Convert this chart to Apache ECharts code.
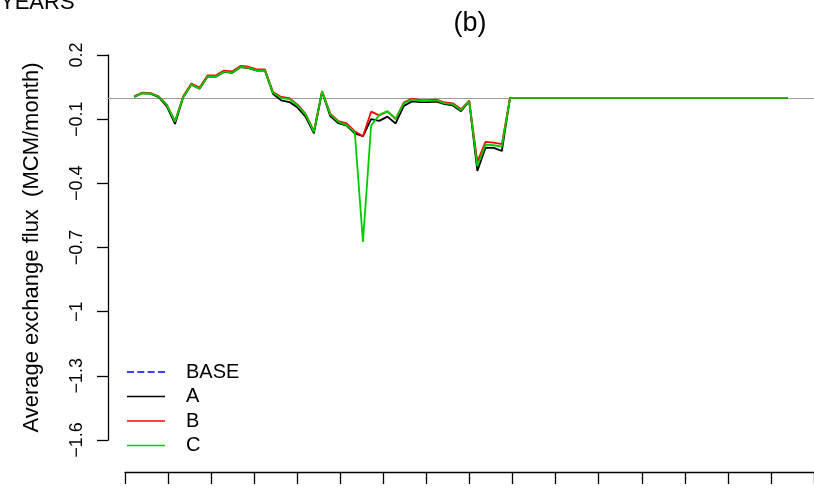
<!DOCTYPE html>
<html>
<head>
<meta charset="utf-8">
<script src="https://cdn.jsdelivr.net/npm/echarts@6/dist/echarts.min.js"></script>
<style>
  html, body { margin: 0; padding: 0; background: #fff; }
  #chart { width: 814px; height: 488px; }
</style>
</head>
<body>
<div id="chart"></div>
<script>
// Monthly average exchange flux (MCM/month) for the four scenarios
const months = Array.from({ length: 81 }, (_, i) => i + 1);

const baseValues = [];

const aValues = [
  0.004, 0.021, 0.019, 0.003, -0.040, -0.122, 0.002, 0.061, 0.042, 0.099,
  0.099, 0.121, 0.117, 0.143, 0.139, 0.127, 0.127, 0.018, -0.012, -0.020,
  -0.046, -0.090, -0.166, 0.028, -0.086, -0.119, -0.130, -0.166, -0.180, -0.100,
  -0.108, -0.088, -0.120, -0.038, -0.017, -0.020, -0.020, -0.018, -0.030, -0.036,
  -0.063, -0.016, -0.342, -0.233, -0.234, -0.249,
  0, 0, 0, 0, 0, 0, 0, 0, 0, 0, 0, 0, 0, 0, 0, 0, 0, 0,
  0, 0, 0, 0, 0, 0, 0, 0, 0, 0, 0, 0, 0, 0, 0, 0, 0
];

const bValues = [
  0.007, 0.024, 0.022, 0.007, -0.032, -0.110, 0.007, 0.067, 0.048, 0.105,
  0.105, 0.127, 0.123, 0.149, 0.145, 0.133, 0.133, 0.027, 0.004, -0.002,
  -0.032, -0.076, -0.156, 0.032, -0.074, -0.109, -0.120, -0.156, -0.180, -0.065,
  -0.082, -0.064, -0.100, -0.022, -0.004, -0.011, -0.011, -0.009, -0.022, -0.026,
  -0.054, -0.013, -0.300, -0.206, -0.210, -0.217,
  0, 0, 0, 0, 0, 0, 0, 0, 0, 0, 0, 0, 0, 0, 0, 0, 0, 0,
  0, 0, 0, 0, 0, 0, 0, 0, 0, 0, 0, 0, 0, 0, 0, 0, 0
];

const cValues = [
  0.005, 0.022, 0.020, 0.005, -0.034, -0.112, 0.003, 0.062, 0.043, 0.100,
  0.100, 0.122, 0.118, 0.144, 0.140, 0.128, 0.128, 0.022, 0.000, -0.006,
  -0.036, -0.080, -0.160, 0.030, -0.078, -0.113, -0.128, -0.160, -0.674, -0.130,
  -0.080, -0.062, -0.097, -0.026, -0.008, -0.014, -0.014, -0.012, -0.026, -0.030,
  -0.058, -0.015, -0.320, -0.219, -0.222, -0.228,
  0, 0, 0, 0, 0, 0, 0, 0, 0, 0, 0, 0, 0, 0, 0, 0, 0, 0,
  0, 0, 0, 0, 0, 0, 0, 0, 0, 0, 0, 0, 0, 0, 0, 0, 0
];

const yTickLabels = ['\u22121.6', '\u22121.3', '\u22121', '\u22120.7', '\u22120.4', '\u22120.1', '0.2'];
const seriesNames = ['BASE', 'A', 'B', 'C'];
const seriesColors = ['#0000ff', '#000000', '#ff0000', '#00cd00'];

const FONT = '"Liberation Sans", Arial, Helvetica, sans-serif';

// legend keys: a dashed stroke for BASE, plain strokes for the others
const SOLID_KEY = 'path://M0,0H38V1.4H0Z';
const DASHED_KEY = 'path://M0,0H7V1.4H0Z M10.3,0H17.3V1.4H10.3Z M20.6,0H27.6V1.4H20.6Z M31,0H38V1.4H31Z';

function pairs(values) {
  return values.map((v, i) => [months[i], v]);
}

const chart = echarts.init(document.getElementById('chart'), null, { renderer: 'canvas' });

const lineSeries = [baseValues, aValues, bValues, cValues].map((vals, k) => ({
  name: seriesNames[k],
  type: 'line',
  xAxisIndex: 0,
  yAxisIndex: 0,
  data: pairs(vals),
  symbol: 'none',
  smooth: false,
  z: 3 + k,
  lineStyle: {
    color: seriesColors[k],
    width: 1.8,
    type: k === 0 ? [5, 4] : 'solid'
  },
  itemStyle: { color: seriesColors[k] }
}));

// horizontal reference line at zero
lineSeries[1].markLine = {
  silent: true,
  symbol: 'none',
  label: { show: false },
  z: 1,
  lineStyle: { color: '#9a9a9a', width: 1, type: 'solid' },
  data: [{ yAxis: 0 }]
};

chart.setOption({
  animation: false,
  backgroundColor: '#ffffff',
  textStyle: { fontFamily: FONT },
  grid: [
    { left: 108, top: 55, width: 708.5, height: 385 },
    { left: 125, top: 471, width: 692, height: 1 }
  ],
  xAxis: [
    { gridIndex: 0, type: 'value', min: 1 - 3.2, max: 81 + 3.2, show: false },
    {
      gridIndex: 1, type: 'value', min: 0, max: 16, interval: 1, position: 'bottom',
      axisLine: { show: true, onZero: false, lineStyle: { color: '#000', width: 1.3 } },
      axisTick: { show: true, inside: false, length: 12, lineStyle: { color: '#000', width: 1.3 } },
      axisLabel: { show: false },
      splitLine: { show: false }
    }
  ],
  yAxis: [
    { gridIndex: 0, type: 'value', min: -1.6, max: 0.2, position: 'right', show: false },
    {
      gridIndex: 0, type: 'value', min: 0, max: 6, interval: 1, position: 'left',
      axisLine: { show: true, onZero: false, lineStyle: { color: '#000', width: 1.3 } },
      axisTick: { show: true, inside: false, length: 11, lineStyle: { color: '#000', width: 1.3 } },
      axisLabel: {
        rotate: 90, margin: 22, color: '#000', fontSize: 18, fontFamily: FONT,
        formatter: v => yTickLabels[Math.round(v)]
      },
      splitLine: { show: false },
      name: 'Average exchange flux  (MCM/month)',
      nameLocation: 'middle',
      nameRotate: 90,
      nameGap: 65,
      nameTextStyle: { color: '#000', fontSize: 22, fontFamily: FONT }
    },
    { gridIndex: 1, type: 'value', show: false }
  ],
  legend: {
    data: seriesNames.map((n, k) => ({ name: n, icon: k === 0 ? DASHED_KEY : SOLID_KEY })),
    orient: 'vertical',
    left: 127,
    top: 362,
    padding: 0,
    itemWidth: 38,
    itemHeight: 14,
    itemGap: 4.5,
    selectedMode: false,
    textStyle: { color: '#000', fontSize: 20, lineHeight: 20, fontFamily: FONT, padding: [0, 0, 0, 16] }
  },
  graphic: [
    {
      type: 'text', left: 0, top: -8, silent: true,
      style: { text: 'YEARS', fill: '#000', font: '22px ' + FONT }
    },
    {
      type: 'text', x: 470, y: 24, silent: true,
      style: { text: '(b)', fill: '#000', font: '27px ' + FONT, align: 'center', verticalAlign: 'middle' }
    }
  ],
  series: lineSeries
});
</script>
</body>
</html>
